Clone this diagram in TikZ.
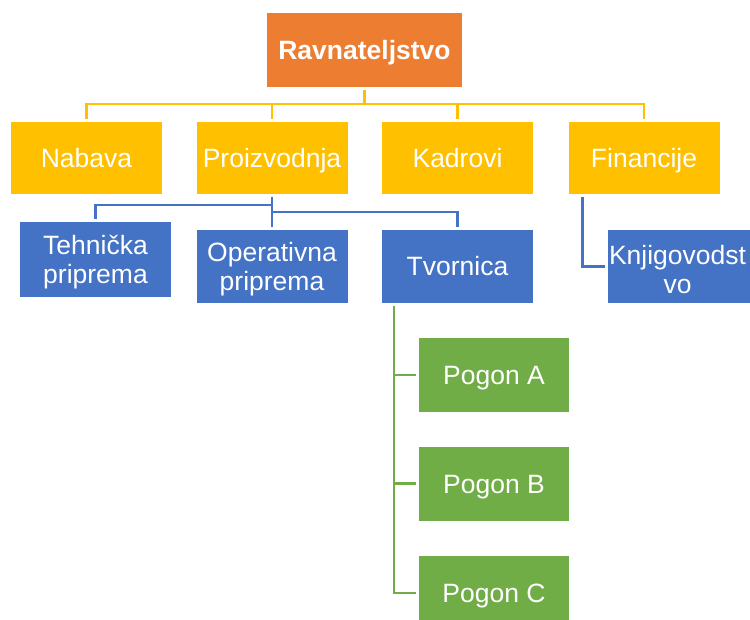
\documentclass[tikz,border=0pt]{standalone}
\usepackage{fontspec}
\setmainfont{Liberation Sans}
\definecolor{corange}{HTML}{ED7D31}
\definecolor{cyellow}{HTML}{FFC000}
\definecolor{cblue}{HTML}{4472C4}
\definecolor{cgreen}{HTML}{70AD47}
\newcommand{\upstrut}{\rule{0pt}{25pt}}
\begin{document}
\begin{tikzpicture}[x=1pt,y=-1pt,
  box/.style={rectangle, inner sep=0pt, text=white, minimum width=151pt,
    font=\fontsize{26.5}{29}\selectfont, align=center},
  one/.style={box, text height=19pt, text depth=0pt},
  two/.style={box},
  yel/.style={fill=cyellow, minimum height=72pt},
  blu/.style={fill=cblue, minimum height=73pt},
  grn/.style={fill=cgreen, minimum height=74pt, minimum width=150pt},
  conn/.style={line width=2.6pt, shorten <=3pt, shorten >=3pt}
]
\useasboundingbox (0,0) rectangle (750,620);
\clip (0,0) rectangle (750,620);
\fill[white] (0,0) rectangle (750,620);

\node[one, fill=corange, minimum width=195pt, minimum height=74pt, font=\fontsize{26.5}{29}\selectfont\bfseries] (root) at (364.5,50) {Ravnateljstvo};

\node[one, yel] (nab) at (86.5,158) {Nabava};
\node[one, yel] (pro) at (272,158) {Proizvodnja};
\node[one, yel] (kad) at (457.5,158) {Kadrovi};
\node[one, yel] (fin) at (644,158) {Financije};

\node[two, blu, minimum height=75pt] (teh) at (95.5,259.5) {\upstrut Tehnička\\priprema};
\node[two, blu] (ope) at (272,266.5) {\upstrut Operativna\\priprema};
\node[one, blu] (tvo) at (457.5,266.5) {Tvornica};
\node[box, blu] (knj) at (683.5,266.5) {};
\node[two] (knjt) at ([xshift=-6pt]knj.center) {\upstrut Knjigovodst\\vo};

\node[one, grn] (pa) at (494,375) {Pogon A};
\node[one, grn] (pb) at (494,483.5) {Pogon B};
\node[one, grn] (pc) at (494,593) {Pogon C};

\begin{scope}[conn, cyellow]
\draw (root.south) -- ++(0,17) -| (nab.north);
\draw (root.south) -- ++(0,17) -| (pro.north);
\draw (root.south) -- ++(0,17) -| (kad.north);
\draw (root.south) -- ++(0,17) -| (fin.north);
\end{scope}

\begin{scope}[conn, cblue]
\draw (pro.south) -- ++(0,11) -| (teh.north);
\draw (pro.south) -- (ope.north);
\draw (pro.south) -- ++(0,18) -| (tvo.north);
\draw ([xshift=14pt]fin.south west) |- (knj.west);
\end{scope}

\begin{scope}[conn, cgreen]
\draw ([xshift=12pt]tvo.south west) |- (pa.west);
\draw ([xshift=12pt]tvo.south west) |- (pb.west);
\draw ([xshift=12pt]tvo.south west) |- (pc.west);
\end{scope}
\end{tikzpicture}
\end{document}
